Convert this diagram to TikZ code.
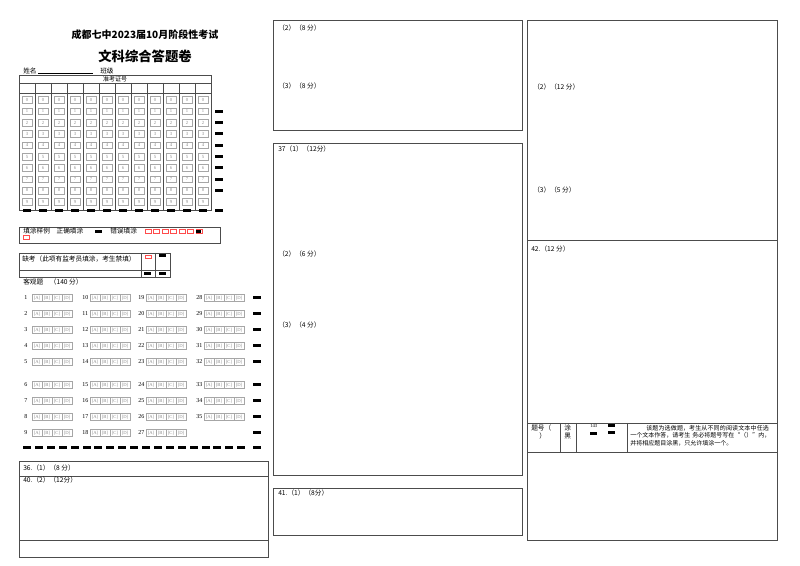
\documentclass[tikz,border=0pt]{standalone}
\usepackage{fontspec}
\setmainfont{Liberation Serif}
\newfontfamily\cjk{Noto Sans CJK SC}
\XeTeXlinebreaklocale "zh"
\XeTeXlinebreakskip = 0pt plus 1pt
\begin{document}
\begin{tikzpicture}[x=0.75pt,y=-0.75pt,
  box/.style={draw=black!70,line width=0.5pt},
  lbl/.style={anchor=west,inner sep=0pt,font=\cjk\fontsize{5}{6}\selectfont},
  bub/.style={draw=black!35,line width=0.3pt,minimum width=7.5pt,minimum height=5pt,inner sep=0pt,font=\fontsize{3.5}{4}\selectfont\color{black!45}},
  blk/.style={fill=black}]
\useasboundingbox (0,0) rectangle (800,566);
% titles
\node[font=\cjk\bfseries\fontsize{7.5}{9}\selectfont] (t1) at (145,35) {成都七中2023届10月阶段性考试};
\node[font=\cjk\bfseries\fontsize{10}{12}\selectfont] (t2) at (145,56) {文科综合答题卷};
\node[lbl] (nm) at (23,71) {姓名};
\draw[line width=0.4pt] (38,73) -- (93,73);
\node[lbl] (bj) at (100,71) {班级};
% exam number
\draw[box] (19,75) rectangle (211,210);
\draw[box] (19,83) -- (211,83);
\draw[box] (19,93) -- (211,93);
\node[font=\cjk\fontsize{4.5}{5}\selectfont,inner sep=0pt] (zk) at (115,79) {准考证号};
\foreach \c in {1,...,11}{\draw[box] (19+16*\c,83) -- (19+16*\c,210);}
\foreach \c in {0,...,11}{
  \foreach \d in {0,...,9}{
    \node[bub] (n\c\d) at (27+16*\c,100+11.3*\d) {\d};}
  \fill[blk] (23+16*\c,209) rectangle (31+16*\c,212);}
\foreach \d in {1,...,8}{\fill[blk] (215,100+11.3*\d-1.5) rectangle (223,100+11.3*\d+1.5);}
\fill[blk] (215,209) rectangle (223,212);
% example
\draw[box] (19,227) rectangle (220,243);
\node[lbl] (ex) at (23,231) {填涂样例\quad 正确填涂};
\fill[blk] (95,230) rectangle (102,233);
\node[lbl] (ex2) at (110,231) {错误填涂};
\foreach \i in {0,...,6}{\draw[red!70,line width=0.4pt] (145+8.5*\i,229.5) rectangle (151+8.5*\i,233);}
\draw[red!70,line width=0.4pt] (23,235.5) rectangle (29,239);
\fill[blk] (196,230) rectangle (201,233);
% absent
\draw[box] (19,253) rectangle (170,277);
\draw[box] (19,270) -- (170,270);
\draw[box] (141,253) -- (141,277);
\draw[box] (155,253) -- (155,277);
\node[lbl,text width=85pt,align=left,anchor=north west] (qk) at (22,256) {缺考（此项有监考员填涂，考生禁填）};
\draw[red!70,line width=0.4pt] (145,255) rectangle (151,258);
\fill[blk] (159,254.5) rectangle (166,257.5);
\fill[blk] (144,272) rectangle (151,275);
\fill[blk] (159,272) rectangle (166,275);
% objective
\node[lbl] (kg) at (23,282) {客观题\quad（140 分）};
\foreach \r/\y in {1/298,2/314,3/330,4/346,5/362,6/385,7/401,8/417,9/433}{
  \foreach \c/\x in {0/24,1/82,2/138,3/196}{
    \pgfmathtruncatemacro{\q}{\r+9*\c}
    \ifnum\q<36
    \node[anchor=west,inner sep=0pt,font=\fontsize{4.5}{5}\selectfont] (q\q) at (\x,\y) {\q};
    \foreach \k/\L in {0/A,1/B,2/C,3/D}{\node[bub] (q\q\L) at (\x+13+10*\k,\y) {[\L]};}
    \fi}
  \fill[blk] (253,\y-1.5) rectangle (261,\y+1.5);}
\foreach \i in {0,...,18}{\fill[blk] (23+11.9*\i,446.5) rectangle (31+11.9*\i,449.5);}
\fill[blk] (253,446.5) rectangle (261,449.5);
% lower left
\draw[box] (19,461) rectangle (268,476);
\node[lbl] (a36) at (23,468) {36.（1）（8 分）};
\draw[box] (19,476) rectangle (268,557);
\draw[box] (19,540) -- (268,540);
\node[lbl] (a40) at (23,480) {40.（2）（12分）};
% middle
\draw[box] (273,20) rectangle (522,130);
\node[lbl] (m1) at (278,28) {（2）（8 分）};
\node[lbl] (m2) at (278,86) {（3）（8 分）};
\draw[box] (273,143) rectangle (522,475);
\node[lbl] (m3) at (278,149) {37（1）（12分）};
\node[lbl] (m4) at (278,254) {（2）（6 分）};
\node[lbl] (m5) at (278,325) {（3）（4 分）};
\draw[box] (273,488) rectangle (522,535);
\node[lbl] (m6) at (278,493) {41.（1）（8分）};
% right
\draw[box] (527,20) rectangle (777,540);
\draw[box] (527,240) -- (777,240);
\draw[box] (527,423) -- (777,423);
\draw[box] (527,452) -- (777,452);
\foreach \x in {560,576,627}{\draw[box] (\x,423) -- (\x,452);}
\node[lbl] (r1) at (533,87) {（2）（12 分）};
\node[lbl] (r2) at (533,190) {（3）（5 分）};
\node[lbl] (r3) at (531,249) {42.（12 分）};
\node[lbl,text width=18pt,align=left,anchor=north west] (r4) at (531,425) {题号（\\\hspace*{6pt}）};
\node[lbl,text width=8pt,align=left,anchor=north west] (r5) at (564,425) {涂\\黑};
\node[anchor=west,inner sep=0pt,font=\fontsize{3.5}{4}\selectfont] (r6) at (590,426) {143};
\fill[blk] (608,424.5) rectangle (615,427.5);
\fill[blk] (590,432.5) rectangle (597,435.5);
\fill[blk] (608,431.5) rectangle (615,434.5);
\node[lbl,text width=105pt,align=left,anchor=north west,font=\cjk\fontsize{4.5}{5.5}\selectfont] (r7) at (630,425) {\hspace*{12pt}该题为选做题，考生从不同的阅读文本中任选一个文本作答，请考生 务必将题号写在“（）”内，并将相应题目涂黑，只允许填涂一个。};
\end{tikzpicture}
\end{document}
